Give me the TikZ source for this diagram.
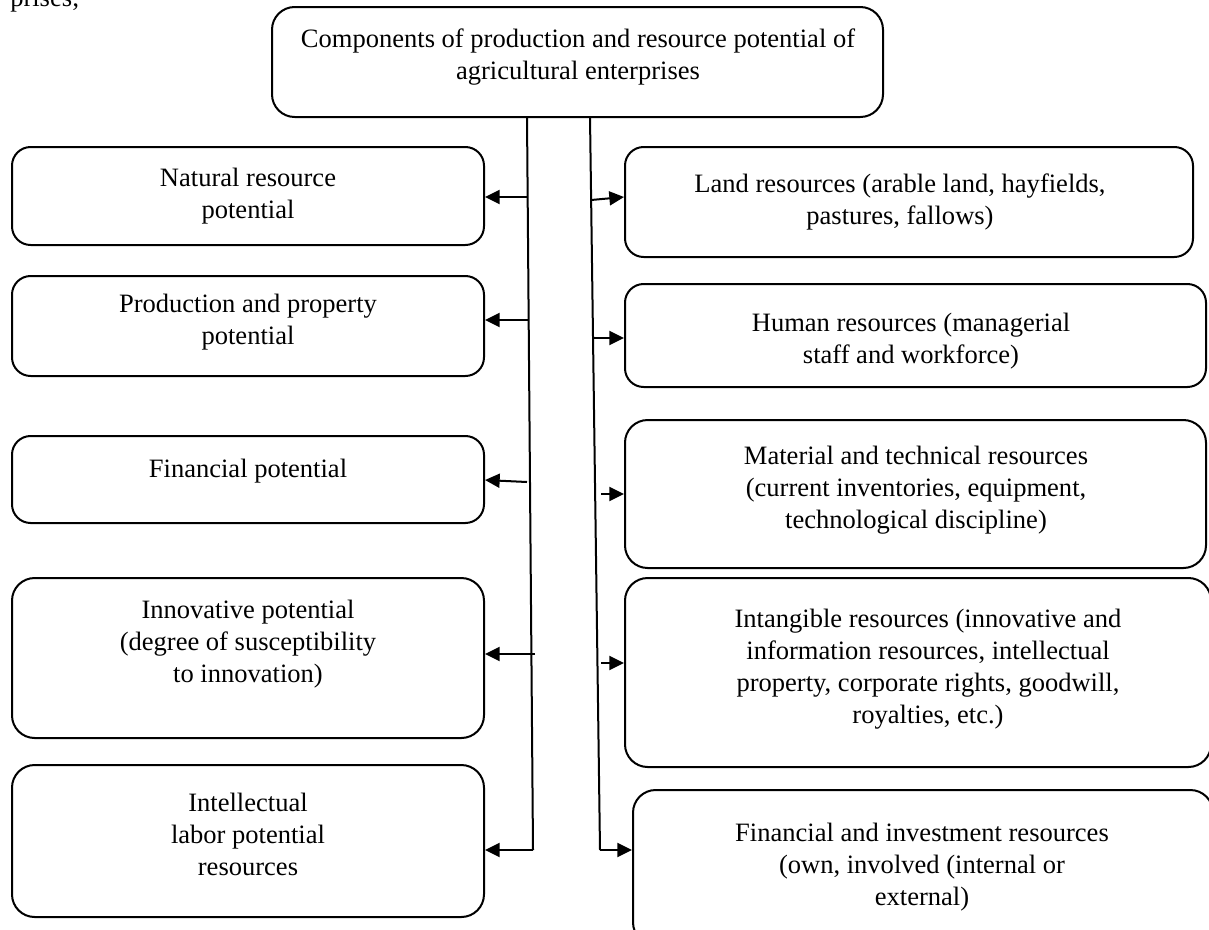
\documentclass[tikz,border=0pt]{standalone}
\usepackage{fontspec}
\setmainfont{Liberation Serif}
\usetikzlibrary{arrows.meta,fit}
\begin{document}
\begin{tikzpicture}[x=0.75pt,y=-0.75pt,
  box/.style={draw, line width=1.5pt, rounded corners=14pt, inner sep=0pt},
  bigbox/.style={box, rounded corners=17pt},
  txt/.style={align=center, inner sep=0pt, font=\fontsize{19.9pt}{24pt}\selectfont},
  link/.style={line width=1.5pt},
  arr/.style={line width=1.5pt, -{Triangle[length=11pt,width=10.5pt]}}]
\useasboundingbox (0,0) rectangle (1209,929);
\clip (0,0) rectangle (1209,929);

% trailing word of the preceding text line
\node[txt, anchor=base west] (tail) at (10,6) {prises;};

% root
\node[bigbox, fit={(272,7) (883,117)}] (root) {};
\node[txt] (root-t) at (578,57) {Components of production and resource potential of\\agricultural enterprises};

% left column: potentials
\node[box, fit={(12,147) (484,245)}] (L1) {};
\node[txt] (L1-t) at (248,196) {Natural resource\\potential};
\node[box, fit={(12,276) (484,376)}] (L2) {};
\node[txt] (L2-t) at (248,322) {Production and property\\potential};
\node[box, fit={(12,436) (484,523)}] (L3) {};
\node[txt] (L3-t) at (248,471) {Financial potential};
\node[bigbox, fit={(12,578) (484,738)}] (L4) {};
\node[txt] (L4-t) at (248,644) {Innovative potential\\(degree of susceptibility\\to innovation)};
\node[bigbox, fit={(12,765) (484,917)}] (L5) {};
\node[txt] (L5-t) at (248,834) {Intellectual\\labor potential\\resources};

% right column: resources
\node[box, fit={(625,147) (1193,257)}] (R1) {};
\node[txt] (R1-t) at (900,202) {Land resources (arable land, hayfields,\\pastures, fallows)};
\node[box, fit={(625,284) (1206,387)}] (R2) {};
\node[txt] (R2-t) at (911,341) {Human resources (managerial\\staff and workforce)};
\node[bigbox, fit={(625,420) (1206,568)}] (R3) {};
\node[txt] (R3-t) at (916,490) {Material and technical resources\\(current inventories, equipment,\\technological discipline)};
\node[bigbox, fit={(625,578) (1211,767)}] (R4) {};
\node[txt] (R4-t) at (928,669) {Intangible resources (innovative and\\information resources, intellectual\\property, corporate rights, goodwill,\\royalties, etc.)};
\node[bigbox, fit={(633,790) (1213,945)}] (R5) {};
\node[txt] (R5-t) at (922,867) {Financial and investment resources\\(own, involved (internal or\\external)};

% trunk lines leaving the root
\coordinate (lt) at (527,117);
\coordinate (lb) at (533,850);
\coordinate (rt) at (590,117);
\coordinate (rb) at (600,850);
\draw[link] (lt) -- (lb);
\draw[link] (rt) -- (rb);

% branches to the left column
\coordinate (a1) at (527.5,197);
\coordinate (a2) at (528.3,320);
\coordinate (a3) at (527,482);
\coordinate (e3) at (0,480);
\coordinate (a4) at (535,654);
\draw[arr] (a1) -- (a1 -| L1.east);
\draw[arr] (a2) -- (a2 -| L2.east);
\draw[arr] (a3) -- (e3 -| L3.east);
\draw[arr] (a4) -- (a4 -| L4.east);
\draw[arr] (lb) -- (lb -| L5.east);

% branches to the right column
\coordinate (b1) at (591,200);
\coordinate (f1) at (0,197);
\coordinate (b2) at (592,338);
\coordinate (b3) at (601,494);
\coordinate (b4) at (601,663);
\draw[arr] (b1) -- (f1 -| R1.west);
\draw[arr] (b2) -- (b2 -| R2.west);
\draw[arr] (b3) -- (b3 -| R3.west);
\draw[arr] (b4) -- (b4 -| R4.west);
\draw[arr] (rb) -- (rb -| R5.west);
\end{tikzpicture}
\end{document}
